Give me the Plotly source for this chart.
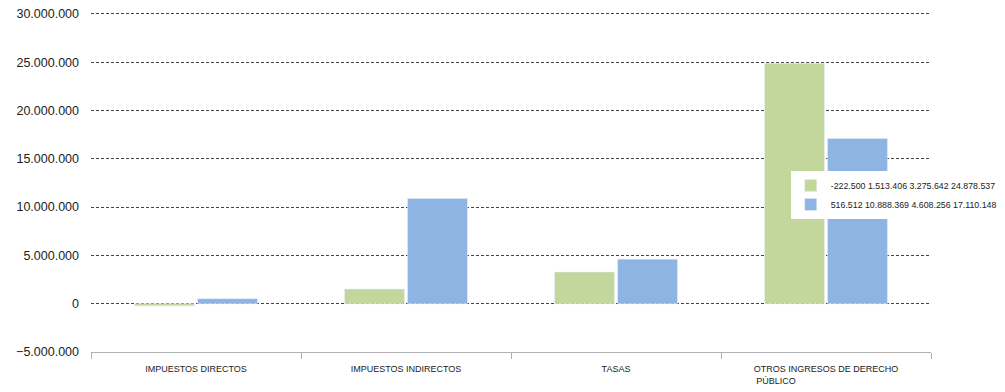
import plotly.graph_objects as go

categories = ["IMPUESTOS DIRECTOS", "IMPUESTOS INDIRECTOS", "TASAS",
              "OTROS INGRESOS DE DERECHO<br>PÚBLICO" + "\u00a0" * 40]
series_a = [-222500, 1513406, 3275642, 24878537]
series_b = [516512, 10888369, 4608256, 17110148]
name_a = "-222.500 1.513.406 3.275.642 24.878.537"
name_b = "516.512 10.888.369 4.608.256 17.110.148"
y_ticks = [-5000000, 0, 5000000, 10000000, 15000000, 20000000, 25000000, 30000000]

fig = go.Figure()
fig.add_trace(go.Bar(x=categories, y=series_a, name=name_a, marker_color="#c3d69b"))
fig.add_trace(go.Bar(x=categories, y=series_b, name=name_b, marker_color="#8eb4e3"))

# page body has an 8px default margin, so the figure is sized to fit the window
fig.update_layout(
    width=997, height=384,
    margin=dict(l=83, r=63, t=3, b=40),
    paper_bgcolor="white", plot_bgcolor="white",
    separators=",.",
    barmode="group", bargap=0.4, bargroupgap=0.05,
    font=dict(family="Liberation Sans, Arial, sans-serif", color="#222"),
    legend=dict(x=0.833, y=0.531, xanchor="left", yanchor="top",
                bgcolor="white", font=dict(size=8.8, color="#222"),
                itemwidth=30, tracegroupgap=0),
)
fig.update_yaxes(
    range=[-5000000, 30300000], tickvals=y_ticks, tickformat=",",
    showgrid=True, gridcolor="#444", griddash="3px,2px", gridwidth=1,
    zeroline=False, tickfont=dict(size=12.5), ticks="", ticklabelstandoff=11,
    showline=False, automargin=False, ticklabeloverflow="allow",
)
fig.update_xaxes(
    showline=True, linecolor="#b0b0b0", linewidth=1,
    ticks="outside", tickson="boundaries", ticklen=6, tickcolor="#b0b0b0",
    tickfont=dict(size=9), showgrid=False, tickangle=0, automargin=False,
    ticklabelstandoff=8, ticklabeloverflow="allow",
)
fig.write_html("out.html")
